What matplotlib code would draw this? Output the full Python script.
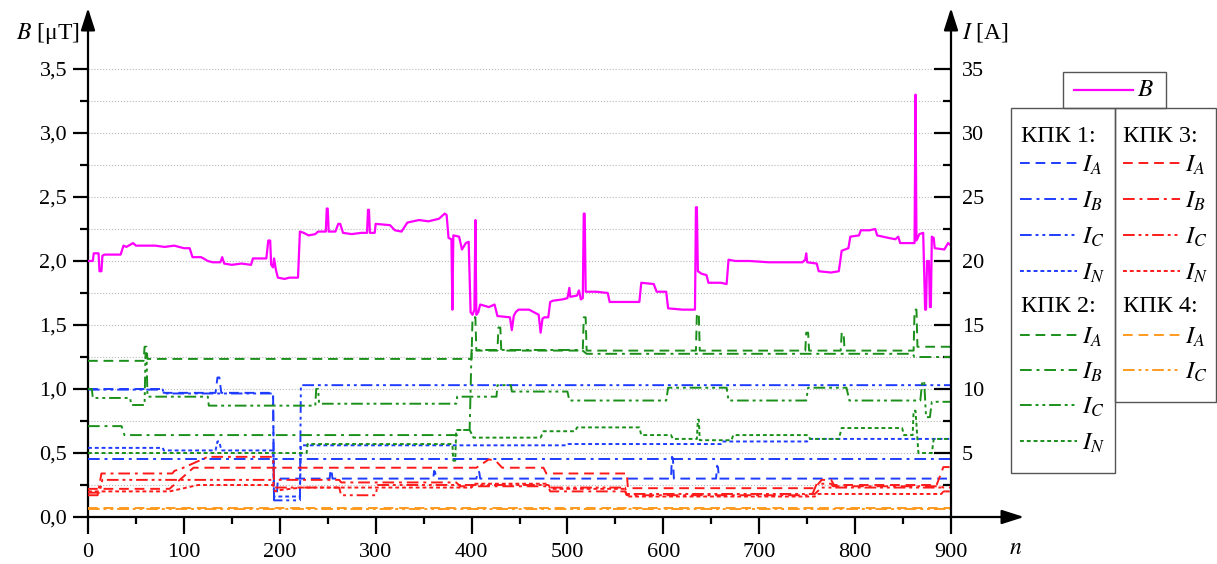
import matplotlib
matplotlib.use('Agg')
import matplotlib.pyplot as plt
from matplotlib.patches import Rectangle
from matplotlib.lines import Line2D
from matplotlib.ticker import FixedLocator, FuncFormatter, MultipleLocator

plt.rcParams['font.family'] = ['Liberation Serif', 'DejaVu Serif']
plt.rcParams['mathtext.fontset'] = 'stix'

# ---- data: magnetic flux density B [uT] (left axis) ----
b_n = [0, 5, 6, 11, 12, 14, 15, 17, 34, 37, 40, 47, 50, 70, 80, 90, 100, 106, 109, 118,
       125, 130, 138, 140, 142, 150, 160, 170, 172, 186, 188, 190, 191, 193, 194, 196, 198,
       205, 210, 219, 221, 225, 230, 237, 240, 248, 249, 250, 251, 258, 261, 263, 266, 275,
       285, 291, 292, 293, 294, 299, 300, 315, 320, 327, 333, 345, 355, 366, 372, 374, 376,
       379, 380, 381, 387, 390, 394, 397, 399, 401, 403, 404, 405, 407, 409, 418, 424, 427,
       440, 442, 444, 446, 449, 460, 465, 470, 472, 474, 476, 480, 482, 485, 495, 500, 502,
       503, 510, 512, 514, 516, 517, 518, 519, 530, 542, 544, 560, 575, 577, 590, 593, 603,
       605, 620, 633, 634, 635, 636, 640, 645, 647, 660, 666, 668, 675, 690, 710, 730, 745,
       748, 749, 750, 760, 762, 775, 783, 786, 793, 795, 804, 806, 815, 821, 823, 835, 842,
       845, 847, 860, 862, 863, 864, 867, 871, 873, 874, 875, 877, 878, 879, 880, 882, 883,
       893, 897, 900]
b_val = [2.00, 2.00, 2.06, 2.06, 1.92, 1.92, 2.04, 2.05, 2.05, 2.12, 2.11, 2.14, 2.12, 2.12,
         2.11, 2.12, 2.10, 2.10, 2.03, 2.03, 2.00, 1.99, 1.99, 2.03, 1.98, 1.97, 1.98, 1.97,
         2.02, 2.02, 2.16, 2.16, 1.97, 1.95, 2.02, 1.93, 1.87, 1.86, 1.87, 1.87, 2.23, 2.22,
         2.20, 2.21, 2.23, 2.23, 2.41, 2.41, 2.23, 2.23, 2.29, 2.29, 2.22, 2.21, 2.22, 2.22,
         2.40, 2.40, 2.22, 2.22, 2.29, 2.28, 2.24, 2.23, 2.30, 2.32, 2.31, 2.33, 2.37, 2.36,
         2.18, 2.17, 1.62, 2.20, 2.19, 2.09, 2.14, 2.15, 1.60, 1.58, 1.62, 2.32, 1.58, 1.60,
         1.66, 1.64, 1.66, 1.57, 1.56, 1.46, 1.57, 1.60, 1.62, 1.62, 1.60, 1.58, 1.44, 1.55,
         1.56, 1.56, 1.68, 1.69, 1.70, 1.71, 1.79, 1.72, 1.73, 1.77, 1.70, 1.71, 2.37, 2.37,
         1.76, 1.76, 1.75, 1.68, 1.68, 1.68, 1.83, 1.82, 1.76, 1.76, 1.63, 1.62, 1.62, 2.42,
         2.42, 1.92, 1.90, 1.89, 1.83, 1.83, 1.82, 2.01, 2.00, 2.00, 1.99, 1.99, 1.99, 2.01,
         2.06, 1.99, 1.98, 1.92, 1.91, 1.92, 2.08, 2.10, 2.19, 2.20, 2.24, 2.24, 2.25, 2.20,
         2.18, 2.17, 2.19, 2.14, 2.14, 2.14, 3.30, 2.16, 2.21, 2.22, 1.62, 1.62, 2.00, 2.00,
         1.64, 1.64, 2.19, 2.18, 2.10, 2.09, 2.14, 2.12]

# ---- currents I [A] (right axis) ----
# KPK 1 (blue)
k1_ia_n = [0, 78, 79, 133, 135, 137, 139, 193, 194, 197, 198, 252, 253, 254, 255, 360, 361,
           362, 363, 405, 407, 408, 409, 608, 609, 610, 611, 655, 656, 657, 658, 900]
k1_ia = [10.0, 10.0, 9.7, 9.7, 10.9, 10.9, 9.7, 9.7, 1.5, 1.8, 3.0, 3.0, 3.7, 3.6, 3.0, 3.0,
         3.6, 3.5, 3.0, 3.0, 3.6, 3.5, 3.0, 3.0, 4.7, 4.6, 3.0, 3.0, 4.0, 3.9, 3.0, 3.0]
k1_ib_n = [0, 900]
k1_ib = [4.5, 4.5]
k1_ic_n = [0, 78, 79, 193, 194, 221, 222, 900]
k1_ic = [9.95, 9.95, 9.65, 9.65, 1.3, 1.3, 10.3, 10.3]
k1_in_n = [0, 78, 79, 133, 135, 137, 139, 193, 194, 221, 222, 500, 501, 660, 661, 750, 751, 900]
k1_in = [5.4, 5.4, 5.2, 5.2, 5.9, 5.9, 5.2, 5.2, 1.6, 1.6, 5.6, 5.6, 5.7, 5.7, 5.9, 5.9, 6.1, 6.1]

# KPK 2 (green)
k2_ia_n = [0, 58, 59, 61, 62, 400, 401, 404, 405, 427, 428, 430, 431, 516, 517, 519, 520, 634,
           635, 637, 638, 748, 749, 751, 752, 785, 786, 788, 789, 861, 862, 864, 865, 900]
k2_ia = [12.2, 12.2, 13.3, 13.3, 12.35, 12.35, 15.6, 15.6, 13.0, 13.0, 14.8, 14.8, 13.0, 13.0,
         15.6, 15.6, 13.0, 13.0, 15.9, 15.9, 13.0, 13.0, 14.4, 14.4, 13.0, 13.0, 14.4, 14.4,
         13.0, 13.0, 16.2, 16.2, 13.3, 13.3]
k2_ib_n = [0, 35, 38, 385, 386, 398, 400, 402, 515, 520, 860, 862, 900]
k2_ib = [7.1, 7.1, 6.4, 6.4, 6.8, 6.8, 13.05, 13.05, 13.05, 12.75, 12.75, 12.5, 12.5]
k2_ic_n = [0, 4, 5, 44, 45, 59, 60, 61, 62, 125, 126, 237, 238, 240, 241, 384, 385, 426, 427,
           441, 442, 500, 502, 603, 605, 666, 668, 749, 751, 791, 794, 868, 870, 872, 874, 878,
           880, 900]
k2_ic = [10.0, 10.0, 9.3, 9.3, 8.75, 8.75, 12.8, 12.8, 9.4, 9.4, 8.7, 8.7, 10.0, 10.0, 8.85,
         8.85, 9.4, 9.4, 10.3, 10.3, 9.8, 9.8, 9.1, 9.1, 10.1, 10.1, 9.1, 9.1, 10.1, 10.1, 9.1,
         9.1, 10.6, 10.6, 7.8, 7.8, 9.0, 9.0]
k2_in_n = [0, 228, 229, 380, 381, 383, 384, 398, 402, 472, 475, 508, 510, 575, 577, 608, 610,
           635, 636, 637, 638, 671, 673, 751, 753, 783, 786, 849, 851, 860, 861, 863, 866, 880,
           882, 900]
k2_in = [5.0, 5.0, 5.7, 5.7, 4.4, 4.4, 6.8, 6.8, 6.2, 6.2, 6.7, 6.7, 7.0, 7.0, 6.4, 6.4, 6.1,
         6.1, 7.6, 7.6, 6.0, 6.0, 6.4, 6.4, 6.1, 6.1, 6.95, 6.95, 6.4, 6.4, 8.3, 8.3, 5.0, 5.0,
         6.1, 6.1]

# KPK 3 (red)
k3_ia_n = [0, 85, 110, 405, 412, 418, 425, 432, 475, 478, 562, 563, 758, 765, 775, 778, 885,
           892, 900]
k3_ia = [2.2, 2.2, 3.85, 3.85, 4.2, 4.5, 4.4, 3.85, 3.85, 3.4, 3.4, 2.25, 2.25, 2.9, 2.9, 2.5,
         2.5, 3.9, 3.9]
k3_ib_n = [0, 10, 14, 88, 90, 98, 125, 193, 194, 262, 264, 384, 388, 480, 482, 560, 562, 755,
           760, 775, 777, 890, 892, 900]
k3_ib = [1.7, 1.7, 3.4, 3.4, 3.6, 3.8, 4.7, 4.7, 2.9, 2.9, 2.7, 2.7, 2.4, 2.4, 2.0, 2.0, 1.7,
         1.7, 2.6, 2.6, 2.4, 2.4, 2.3, 2.3]
k3_ic_n = [0, 12, 15, 193, 194, 262, 264, 300, 302, 480, 482, 560, 562, 758, 765, 890, 892, 900]
k3_ic = [1.9, 1.9, 2.9, 2.9, 2.3, 2.3, 1.7, 1.7, 2.5, 2.5, 2.3, 2.3, 1.8, 1.8, 2.3, 2.3, 2.0, 2.0]
k3_in_n = [0, 85, 115, 193, 195, 200, 222, 400, 402, 480, 482, 560, 562, 758, 760, 890, 892, 900]
k3_in = [2.0, 2.0, 2.5, 2.5, 2.0, 2.1, 2.3, 2.3, 2.6, 2.6, 2.2, 2.2, 1.6, 1.6, 1.8, 1.8, 2.0, 2.0]

# KPK 4 (orange)
k4_ia_n = [0, 900]
k4_ia = [0.70, 0.70]
k4_ic_n = [0, 900]
k4_ic = [0.62, 0.62]

# ---- styles ----
BLUE, GREEN, RED, ORANGE, MAGENTA = '#1e3cff', '#1a8f1a', '#ff1a1a', '#ff9a1f', '#ff00ff'
LS = {'A': (0, (5, 3)), 'B': (0, (6, 2.5, 1.5, 2.5)),
      'C': (0, (6, 2, 1.5, 2, 1.5, 2)), 'N': (0, (2, 1.5))}
LW = 1.4

W, H = 1217, 564
def fx(px):
    return px / W
def fy(py):
    return 1 - py / H

fig = plt.figure(figsize=(W / 100, H / 100), dpi=100)
ax = fig.add_axes([fx(88), fy(517), fx(951) - fx(88), fy(24) - fy(517)])
ax2 = ax.twinx()

ymax = (517 - 24) / 128
ax.set_xlim(0, 900)
ax.set_ylim(0, ymax)
ax2.set_ylim(0, ymax * 10)

ax.plot(b_n, b_val, color=MAGENTA, lw=1.6, zorder=5)

series = [
    (k1_ia_n, k1_ia, BLUE, 'A'), (k1_ib_n, k1_ib, BLUE, 'B'),
    (k1_ic_n, k1_ic, BLUE, 'C'), (k1_in_n, k1_in, BLUE, 'N'),
    (k2_ia_n, k2_ia, GREEN, 'A'), (k2_ib_n, k2_ib, GREEN, 'B'),
    (k2_ic_n, k2_ic, GREEN, 'C'), (k2_in_n, k2_in, GREEN, 'N'),
    (k3_ia_n, k3_ia, RED, 'A'), (k3_ib_n, k3_ib, RED, 'B'),
    (k3_ic_n, k3_ic, RED, 'C'), (k3_in_n, k3_in, RED, 'N'),
    (k4_ia_n, k4_ia, ORANGE, 'A'), (k4_ic_n, k4_ic, ORANGE, 'C'),
]
for xs, ys, col, ph in series:
    ax2.plot(xs, ys, color=col, ls=LS[ph], lw=LW)

# grid (left axis, major + minor)
ax.set_yticks([0, 0.5, 1.0, 1.5, 2.0, 2.5, 3.0, 3.5])
ax.yaxis.set_minor_locator(FixedLocator([0.25, 0.75, 1.25, 1.75, 2.25, 2.75, 3.25]))
ax.yaxis.set_major_formatter(FuncFormatter(lambda v, p: f'{v:.1f}'.replace('.', ',')))
ax.yaxis.grid(True, which='both', ls=':', color='#b8b8b8', lw=0.8)
ax.set_axisbelow(True)

ax.xaxis.set_major_locator(MultipleLocator(100))
ax.xaxis.set_minor_locator(MultipleLocator(50))

ax2.set_yticks([5, 10, 15, 20, 25, 30, 35])
ax2.yaxis.set_minor_locator(FixedLocator([2.5, 7.5, 12.5, 17.5, 22.5, 27.5, 32.5]))

for a in (ax, ax2):
    a.spines['top'].set_visible(False)
    for s in a.spines.values():
        s.set_linewidth(1.6)
ax.spines['right'].set_visible(False)
ax2.spines['left'].set_visible(False)
ax2.spines['bottom'].set_visible(False)

ax.tick_params(axis='y', which='major', direction='out', length=11, width=1.6, labelsize=16, pad=4)
ax.tick_params(axis='y', which='minor', direction='out', length=6, width=1.6)
ax.tick_params(axis='x', which='major', direction='out', length=12, width=1.6, labelsize=16, pad=7)
ax.tick_params(axis='x', which='minor', direction='out', length=5, width=1.6)
ax2.tick_params(axis='y', which='major', direction='in', length=12, width=1.6, labelsize=16, pad=8)
ax2.tick_params(axis='y', which='minor', direction='in', length=6, width=1.6)

# axis arrows
arrow_kw = dict(arrowstyle='-|>,head_length=0.75,head_width=0.24', color='black', lw=1.6,
                shrinkA=0, shrinkB=0, mutation_scale=18)
for xp in (88, 951):
    ax.annotate('', xy=(fx(xp), fy(8)), xytext=(fx(xp), fy(26)),
                xycoords='figure fraction', textcoords='figure fraction', arrowprops=arrow_kw)
ax.annotate('', xy=(fx(1024), fy(517)), xytext=(fx(949), fy(517)),
            xycoords='figure fraction', textcoords='figure fraction', arrowprops=arrow_kw)

fig.text(fx(80), fy(33), r'$B$ [μT]', ha='right', va='center', fontsize=17)
fig.text(fx(962), fy(33), r'$I$ [A]', ha='left', va='center', fontsize=17)
fig.text(fx(1016), fy(549), r'$n$', ha='center', va='center', fontsize=17)

# ---- legend boxes ----
def box(x0, y0, x1, y1):
    fig.add_artist(Rectangle((fx(x0), fy(y1)), fx(x1) - fx(x0), fy(y0) - fy(y1),
                             transform=fig.transFigure, fill=False, ec='#555555', lw=1.0))

def entry(x0, y, col, ph):
    fig.add_artist(Line2D([fx(x0), fx(x0 + 57)], [fy(y), fy(y)], transform=fig.transFigure,
                          color=col, ls=LS[ph], lw=LW))
    fig.text(fx(x0 + 62), fy(y + 2), f'$I_{ph}$', ha='left', va='center', fontsize=18)

box(1063, 72, 1166, 108)
fig.add_artist(Line2D([fx(1074), fx(1133)], [fy(90), fy(90)], transform=fig.transFigure,
                      color=MAGENTA, lw=1.6))
fig.text(fx(1137), fy(90), r'$B$', ha='left', va='center', fontsize=18)

box(1011, 108, 1115, 473)
box(1115, 108, 1216, 402)

rows = [137, 163, 199, 235, 271, 307, 335, 370, 405, 441]
fig.text(fx(1021), fy(rows[0]), 'КПК 1:', ha='left', va='center', fontsize=17.5)
fig.text(fx(1021), fy(rows[5]), 'КПК 2:', ha='left', va='center', fontsize=17.5)
fig.text(fx(1123), fy(rows[0]), 'КПК 3:', ha='left', va='center', fontsize=17.5)
fig.text(fx(1123), fy(rows[5]), 'КПК 4:', ha='left', va='center', fontsize=17.5)
for i, ph in enumerate('ABCN'):
    entry(1020, rows[1 + i], BLUE, ph)
    entry(1020, rows[6 + i], GREEN, ph)
    entry(1123, rows[1 + i], RED, ph)
entry(1123, rows[6], ORANGE, 'A')
entry(1123, rows[7], ORANGE, 'C')

fig.savefig('out.png', dpi=100)
